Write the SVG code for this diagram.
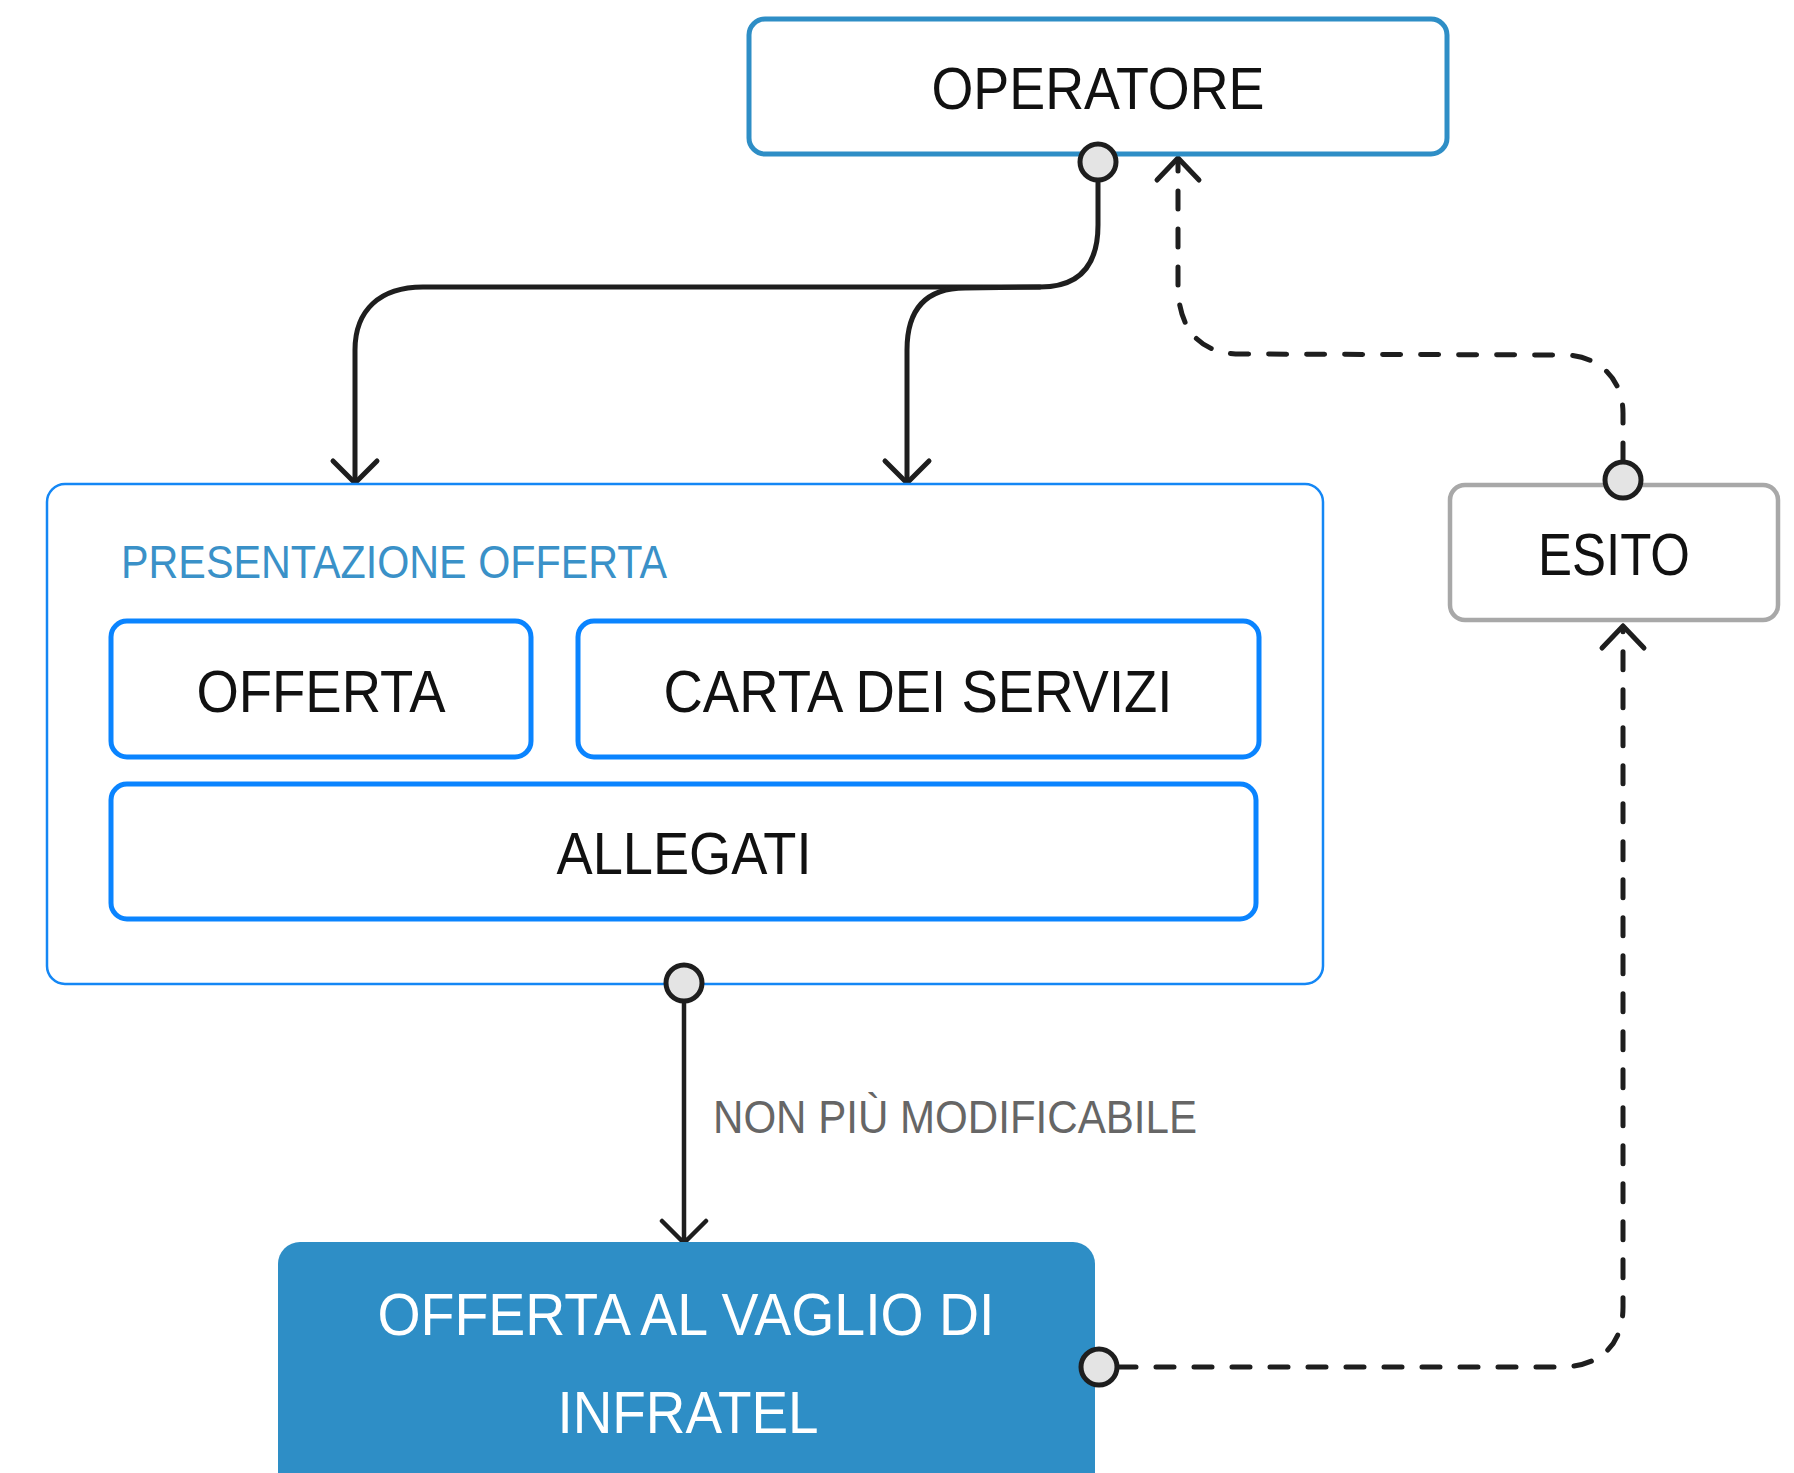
<svg xmlns="http://www.w3.org/2000/svg" width="1794" height="1473" viewBox="0 0 1794 1473">
<style>
.t{font-family:"Liberation Sans",Arial,sans-serif;fill:#111;font-size:60px}
.c{text-anchor:middle}
.box{fill:#fff;stroke:#0a84ff;stroke-width:5}
.ln{fill:none;stroke:#1e1e1e;stroke-width:5;stroke-linecap:round;stroke-linejoin:round}
.dash{stroke-dasharray:18 20}
.port{fill:#e4e4e4;stroke:#1e1e1e;stroke-width:5}
</style>
<rect width="1794" height="1473" fill="#fff"/>
<g id="connectors">
<path class="ln" d="M1098,180 L1098,225 C1098,265 1080,287 1040,287 L423,287 C380,287 355,310 355,350 L355,483"/>
<path class="ln" d="M355,483 L333,461 M355,483 L377,461"/>
<path class="ln" d="M1040,287 L965,288 C925,288 907,310 907,350 L907,483"/>
<path class="ln" d="M907,483 L885,461 M907,483 L929,461"/>
<path class="ln dash" d="M1623,461 L1623,413 C1623,380 1600,355 1563,355 L1241,354 C1200,354 1180,330 1178,290 L1178,162"/>
<path class="ln" d="M1178,158 L1157,180 M1178,158 L1199,180"/>
<path class="ln dash" d="M1118,1367 L1560,1367 C1600,1367 1623,1345 1623,1307 L1623,630"/>
<path class="ln" d="M1623,626 L1602,648 M1623,626 L1644,648"/>
<path class="ln" style="stroke-width:4.5" d="M684,1001 L684,1243 M684,1243 L662,1221 M684,1243 L706,1221"/>
<text x="713" y="1133" style="font-family:'Liberation Sans',Arial,sans-serif;font-size:46px;fill:#666" textLength="484" lengthAdjust="spacingAndGlyphs">NON PIÙ MODIFICABILE</text>
</g>
<g id="operatore">
<rect x="749" y="19" width="698" height="135" rx="16" fill="#fff" stroke="#2e8ec6" stroke-width="5"/>
<text class="t c" x="1098" y="109" textLength="333" lengthAdjust="spacingAndGlyphs">OPERATORE</text>
</g>
<g id="presentazione">
<rect x="47" y="484" width="1276" height="500" rx="18" fill="#fff" stroke="#1487f5" stroke-width="2.5"/>
<text x="121" y="578" style="font-family:'Liberation Sans',Arial,sans-serif;font-size:46px;fill:#3a91c8" textLength="546" lengthAdjust="spacingAndGlyphs">PRESENTAZIONE OFFERTA</text>
</g>
<g id="offerta">
<rect class="box" x="111" y="621" width="420" height="136" rx="16"/>
<text class="t c" x="321" y="712" textLength="249" lengthAdjust="spacingAndGlyphs">OFFERTA</text>
</g>
<g id="carta">
<rect class="box" x="578" y="621" width="681" height="136" rx="16"/>
<text class="t c" x="918" y="712" textLength="509" lengthAdjust="spacingAndGlyphs">CARTA DEI SERVIZI</text>
</g>
<g id="allegati">
<rect class="box" x="111" y="784" width="1145" height="135" rx="16"/>
<text class="t c" x="684" y="874" textLength="255" lengthAdjust="spacingAndGlyphs">ALLEGATI</text>
</g>
<g id="esito">
<rect x="1450" y="485" width="328" height="135" rx="15" fill="#fff" stroke="#a8a8a8" stroke-width="4.5"/>
<text class="t c" x="1614" y="575" textLength="152" lengthAdjust="spacingAndGlyphs">ESITO</text>
</g>
<g id="vaglio">
<rect x="278" y="1242" width="817" height="260" rx="22" fill="#2e8ec6"/>
<text class="t c" x="686" y="1335" style="fill:#fff" textLength="617" lengthAdjust="spacingAndGlyphs">OFFERTA AL VAGLIO DI</text>
<text class="t c" x="688" y="1433" style="fill:#fff" textLength="261" lengthAdjust="spacingAndGlyphs">INFRATEL</text>
</g>
<g id="ports">
<circle class="port" cx="1098" cy="162" r="18"/>
<circle class="port" cx="1623" cy="480" r="18"/>
<circle class="port" cx="684" cy="983" r="18"/>
<circle class="port" cx="1099" cy="1367" r="18"/>
</g>
</svg>
